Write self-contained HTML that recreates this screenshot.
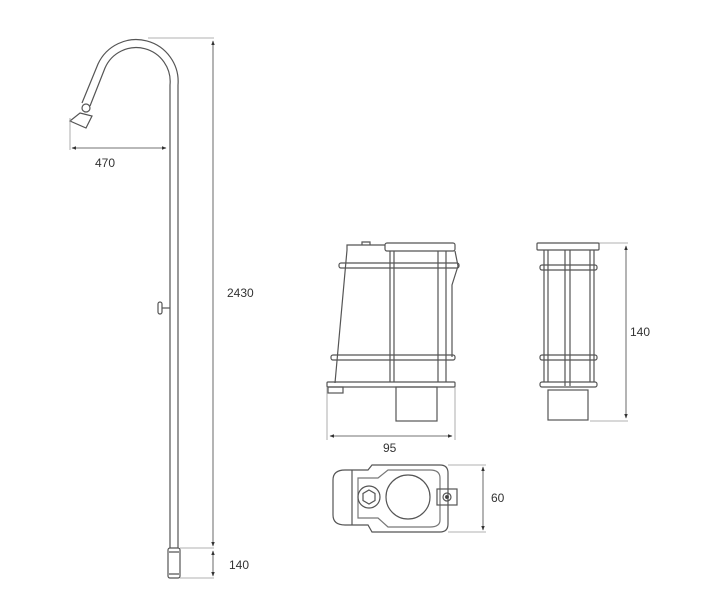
<!DOCTYPE html>
<html><head><style>body{margin:0;background:#fff}svg{display:block}text{font-family:"Liberation Sans",sans-serif;font-size:12px;fill:#333}</style></head>
<body>
<svg width="720" height="600" viewBox="0 0 720 600" fill="none" stroke="#555" stroke-width="1.2">
<defs><marker id="a" viewBox="0 0 8 8" refX="7" refY="4" markerWidth="6" markerHeight="6" orient="auto-start-reverse"><path d="M0,1 L8,4 L0,7z" fill="#333" stroke="none"/></marker></defs>
<path d="M178,548 L178,85 A42,42 0 0 0 98,64 L82,103"/>
<path d="M170,548 L170,85 A34,34 0 0 0 105,68 L90,106"/>
<circle cx="86" cy="108" r="4"/>
<path d="M80,113 L92,116 L86,128 L70,121 Z"/>
<path d="M170,308 h-8"/>
<rect x="158" y="302" width="4" height="12" rx="2"/>
<rect x="168" y="548" width="12" height="30" rx="2"/>
<path d="M169,552 h10 M169,574 h10"/>
<g stroke="#999" stroke-width="0.8">
<path d="M148,38 H214 M180,548 H214 M180,578 H214 M70,118 V150"/>
</g>
<g stroke="#444" stroke-width="0.8">
<path d="M213,41 V546" marker-start="url(#a)" marker-end="url(#a)"/>
<path d="M213,551 V576" marker-start="url(#a)" marker-end="url(#a)"/>
<path d="M72,148 H166" marker-start="url(#a)" marker-end="url(#a)"/>
</g>
<path d="M347,250 L335,383 M347,250 V245 H385 M370,245 v-3 h-8 v3"/>
<rect x="385" y="243" width="70" height="8" rx="2"/>
<path d="M455,251 L458,266 L452,285 V357"/>
<rect x="339" y="263" width="120" height="5" rx="2"/>
<rect x="331" y="355" width="124" height="5" rx="2"/>
<rect x="327" y="382" width="128" height="5" rx="1"/>
<rect x="328" y="387" width="15" height="6"/>
<path d="M390,251 V382 M394,251 V382 M438,251 V382 M446,251 V382"/>
<rect x="396" y="387" width="41" height="34"/>
<g stroke="#999" stroke-width="0.8"><path d="M327,387 V440 M455,387 V440 M590,243 H628 M590,421 H628 M448,465 H486 M448,532 H486"/></g>
<g stroke="#444" stroke-width="0.8">
<path d="M330,436 H452" marker-start="url(#a)" marker-end="url(#a)"/>
<path d="M626,246 V418" marker-start="url(#a)" marker-end="url(#a)"/>
<path d="M483,467 V530" marker-start="url(#a)" marker-end="url(#a)"/>
</g>
<rect x="537" y="243" width="62" height="7" rx="1"/>
<rect x="540" y="265" width="57" height="5" rx="2"/>
<rect x="540" y="355" width="57" height="5" rx="2"/>
<rect x="540" y="382" width="57" height="5" rx="2"/>
<path d="M544,250 V382 M548,250 V382 M565,250 V386 M570,250 V386 M590,250 V382 M594,250 V382"/>
<rect x="548" y="390" width="40" height="30"/>
<path d="M345,470 H368 L372,465 H440 Q448,465 448,473 V524 Q448,532 440,532 H372 L368,525 H345 Q333,525 333,515 V480 Q333,470 345,470Z"/>
<path d="M352,470 V525"/>
<path d="M358,478 H378 L388,470 H430 Q440,470 440,478 V520 Q440,527 430,527 H388 L378,518 H358 Z" stroke="#777"/>
<circle cx="408" cy="497" r="22"/>
<circle cx="369" cy="497" r="11"/>
<path d="M369,490 l6,3.5 v7 l-6,3.5 l-6,-3.5 v-7z"/>
<rect x="437" y="489" width="20" height="16"/>
<circle cx="447" cy="497" r="4"/>
<circle cx="447" cy="497" r="1.5" fill="#333"/>
<g stroke="none">
<text x="95" y="167">470</text>
<text x="227" y="297">2430</text>
<text x="229" y="569">140</text>
<text x="383" y="452">95</text>
<text x="630" y="336">140</text>
<text x="491" y="502">60</text>
</g>
</svg>
</body></html>
